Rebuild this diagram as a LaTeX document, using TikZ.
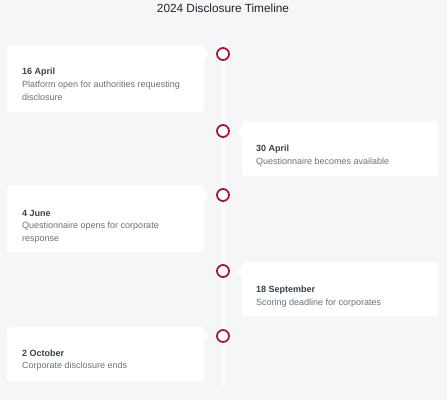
\documentclass[tikz,border=0pt]{standalone}
\usepackage{fontspec}
\setmainfont{Liberation Sans}
\definecolor{bg}{HTML}{F5F6F8}
\definecolor{crim}{HTML}{A3173F}
\definecolor{datec}{HTML}{3B404A}
\definecolor{descc}{HTML}{6B7079}
\definecolor{titlec}{HTML}{1F2328}
\begin{document}
\begin{tikzpicture}[x=1pt,y=-1pt,
  dot/.style={circle,draw=crim,line width=1.8pt,fill=white,minimum size=12pt,inner sep=0pt},
  card/.style={fill=white,rounded corners=3pt,inner sep=0pt,anchor=north west},
  datet/.style={anchor=base west,font=\fontsize{9}{11}\selectfont\bfseries,text=datec,inner sep=0pt},
  desct/.style={anchor=base west,font=\fontsize{9}{12.5}\selectfont,text=descc,inner sep=0pt,align=left},
  spine/.style={white,line width=3pt}]
\fill[bg] (0,0) rectangle (447,400);
\useasboundingbox (0,0) rectangle (447,400);

\node[font=\fontsize{11.8}{14}\selectfont,text=titlec] (title) at (223,8) {2024 Disclosure Timeline};

% spine
\coordinate (ltop) at (223,40);
\coordinate (lbot) at (223,385);
\draw[spine] (ltop) -- (lbot);

% cards
\node[card,minimum width=197pt,minimum height=67pt] (c1) at (7,45) {};
\fill[white] (203,48) -- (209,54) -- (203,60) -- cycle;
\node[card,minimum width=196pt,minimum height=54pt] (c2) at (242,122) {};
\fill[white] (243,126) -- (237,132) -- (243,138) -- cycle;
\node[card,minimum width=197pt,minimum height=67pt] (c3) at (7,185) {};
\fill[white] (203,189) -- (209,195) -- (203,201) -- cycle;
\node[card,minimum width=196pt,minimum height=54pt] (c4) at (242,262) {};
\fill[white] (243,266) -- (237,272) -- (243,278) -- cycle;
\node[card,minimum width=197pt,minimum height=54pt] (c5) at (7,327) {};
\fill[white] (203,330) -- (209,336) -- (203,342) -- cycle;

% dots
\node[dot] (d1) at (223,54) {};
\node[dot] (d2) at (223,131) {};
\node[dot] (d3) at (223,195) {};
\node[dot] (d4) at (223,271) {};
\node[dot] (d5) at (223,336) {};

% texts
\node[datet] (t1) at (22,74.5) {16 April};
\node[desct] (s1) at (22,100) {Platform open for authorities requesting\\disclosure};
\node[datet] (t2) at (256,151) {30 April};
\node[desct] (s2) at (256,164) {Questionnaire becomes available};
\node[datet] (t3) at (22,216) {4 June};
\node[desct] (s3) at (22,241) {Questionnaire opens for corporate\\response};
\node[datet] (t4) at (256,292.5) {18 September};
\node[desct] (s4) at (256,305) {Scoring deadline for corporates};
\node[datet] (t5) at (22,356.5) {2 October};
\node[desct] (s5) at (22,368.5) {Corporate disclosure ends};
\end{tikzpicture}
\end{document}
